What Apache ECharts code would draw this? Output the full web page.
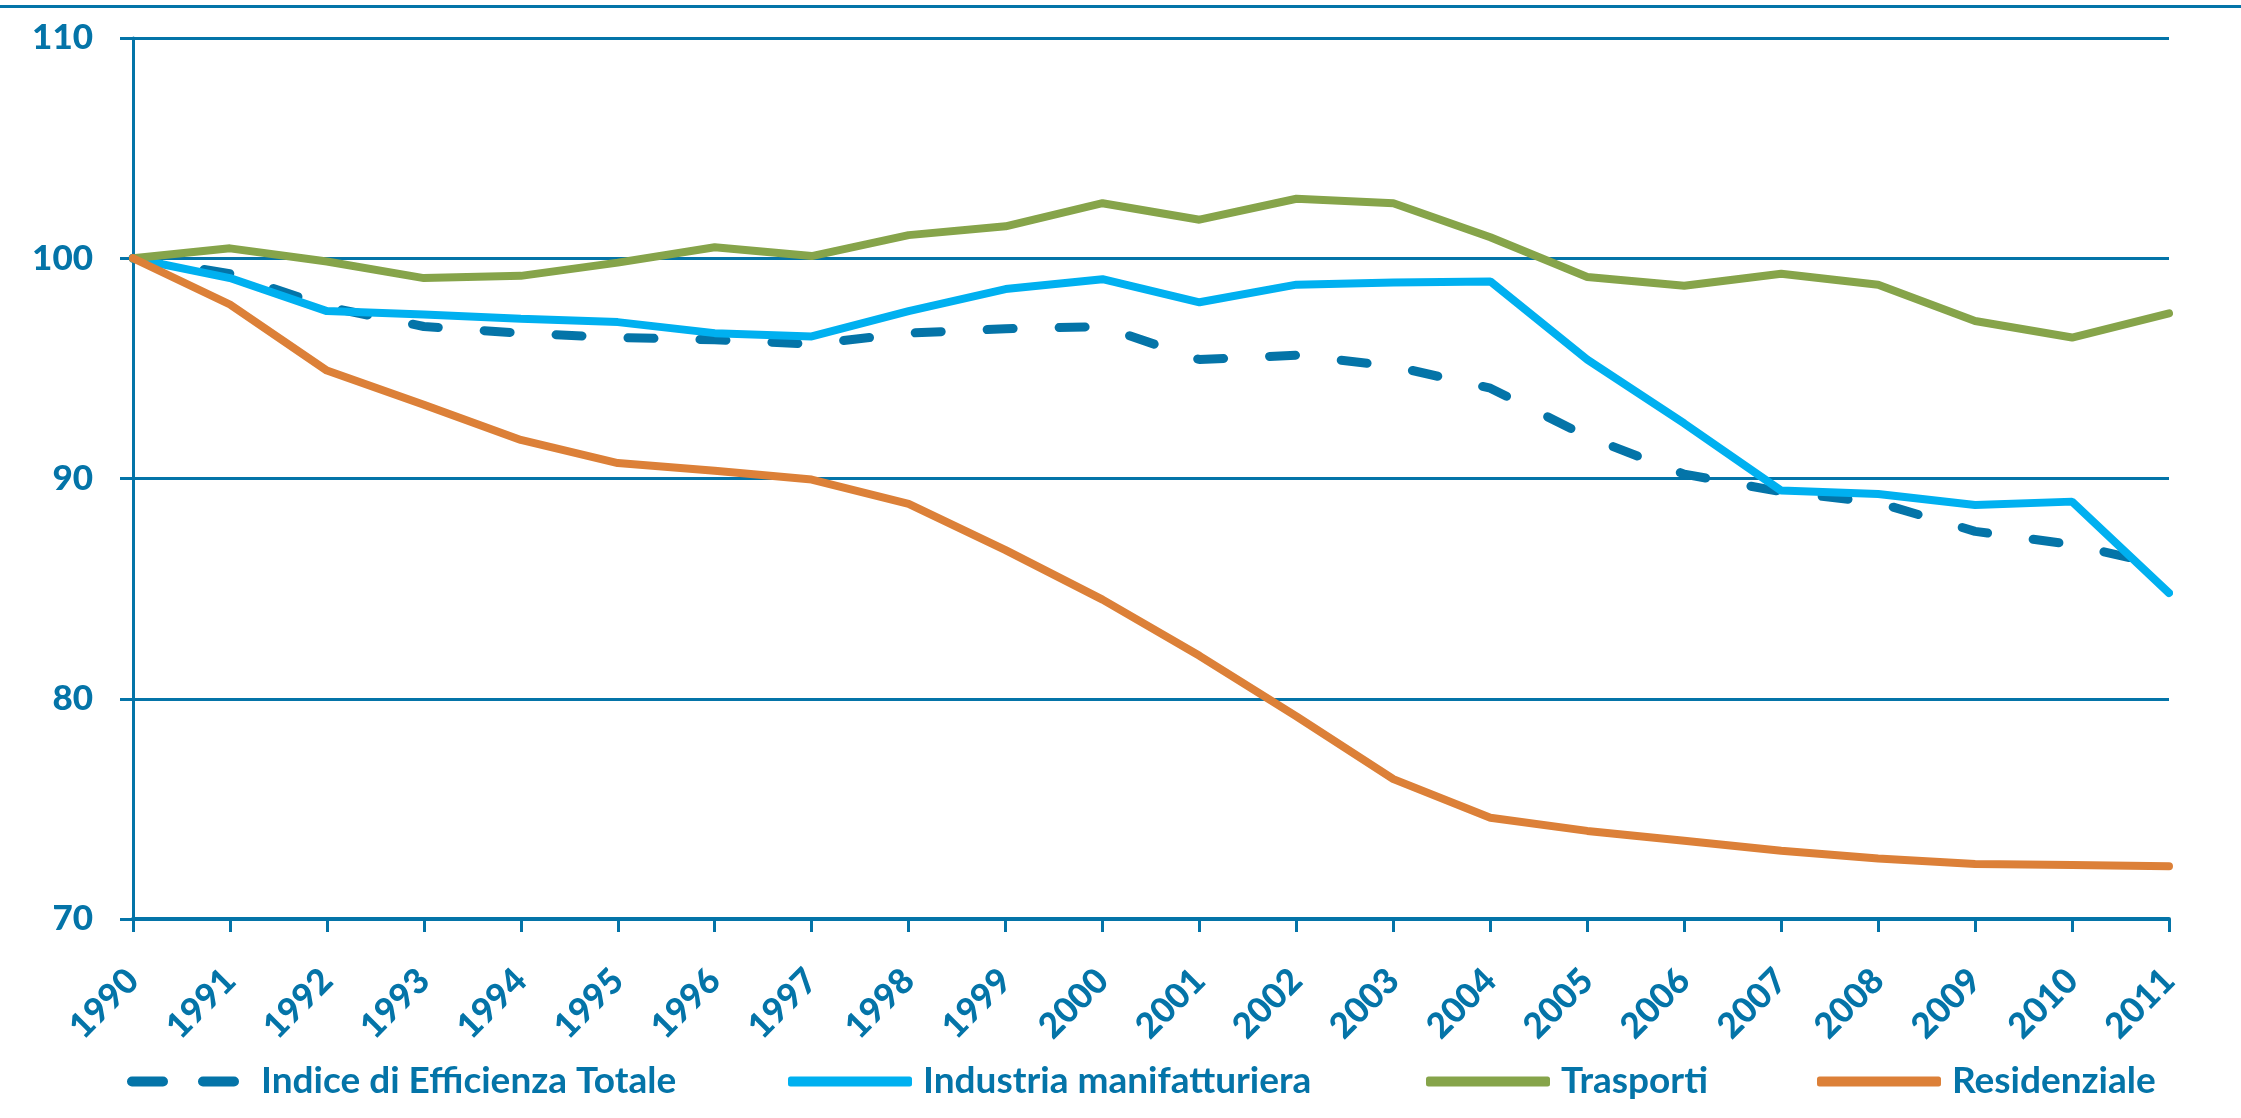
<!DOCTYPE html>
<html>
<head>
<meta charset="utf-8">
<script src="https://cdn.jsdelivr.net/npm/echarts@6/dist/echarts.min.js"></script>
<style>
  html, body { margin: 0; padding: 0; background: #fff; }
  #main { width: 2241px; height: 1118px; }
</style>
</head>
<body>
<div id="main"></div>
<script>
// dati
var anni = ['1990','1991','1992','1993','1994','1995','1996','1997','1998','1999','2000',
            '2001','2002','2003','2004','2005','2006','2007','2008','2009','2010','2011'];
var indiceTotale = [100, 99.3, 97.8, 96.9, 96.6, 96.4, 96.3, 96.1, 96.6, 96.8, 96.9,
                    95.4, 95.6, 95.1, 94.1, 91.9, 90.2, 89.4, 88.9, 87.6, 87.0, 86.0];
var industria = [100, 99.1, 97.6, 97.45, 97.25, 97.1, 96.6, 96.45, 97.6, 98.6, 99.05,
                 98.0, 98.8, 98.9, 98.95, 95.4, 92.5, 89.45, 89.3, 88.8, 88.95, 84.8];
var trasporti = [100, 100.45, 99.85, 99.1, 99.2, 99.8, 100.5, 100.1, 101.05, 101.45, 102.5,
                 101.75, 102.7, 102.5, 100.95, 99.15, 98.75, 99.3, 98.8, 97.15, 96.4, 97.5];
var residenziale = [100, 97.9, 94.9, 93.35, 91.75, 90.7, 90.35, 89.95, 88.85, 86.75, 84.5,
                    81.95, 79.2, 76.35, 74.6, 74.0, 73.55, 73.1, 72.75, 72.5, 72.45, 72.4];
var yTicks = [70, 80, 90, 100, 110];
var nomi = ['Indice di Efficienza Totale', 'Industria manifatturiera', 'Trasporti', 'Residenziale'];

var blu = '#0474A8';
var colori = [blu, '#00B0F0', '#86A44A', '#DC8038'];
var font = 'Lato, "Open Sans", sans-serif';

// posizione (x) di ogni voce di legenda
var legendaX = [122, 783, 1421, 1812];
var iconaTratteggio = 'path://M5,0h31a5,5 0 0 1 0,10h-31a5,5 0 0 1 0,-10z M76,0h31a5,5 0 0 1 0,10h-31a5,5 0 0 1 0,-10z';

var chart = echarts.init(document.getElementById('main'));

var legende = nomi.map(function (n, i) {
  return {
    top: 1058,
    left: legendaX[i],
    itemWidth: i === 0 ? 112 : 124,
    itemHeight: 10,
    icon: i === 0 ? iconaTratteggio : 'roundRect',
    selectedMode: false,
    textStyle: { color: blu, fontFamily: font, fontWeight: 'bold', fontSize: 37, padding: [0, 0, 0, i === 0 ? 17 : 6] },
    data: [n]
  };
});

var option = {
  backgroundColor: '#fff',
  animation: false,
  graphic: [{
    type: 'line',
    shape: { x1: 0, y1: 6.5, x2: 2241, y2: 6.5 },
    style: { stroke: blu, lineWidth: 3 }
  }],
  grid: { left: 133, right: 72, top: 38, bottom: 199 },
  legend: legende,
  xAxis: {
    type: 'category',
    data: anni,
    boundaryGap: false,
    axisLine: { lineStyle: { color: blu, width: 4 } },
    axisTick: { show: true, length: 13, lineStyle: { color: blu, width: 3 } },
    axisLabel: { rotate: 45, margin: 56, color: blu, fontFamily: font, fontWeight: 900, fontSize: 35 },
    splitLine: { show: false }
  },
  yAxis: {
    type: 'value',
    min: yTicks[0],
    max: yTicks[yTicks.length - 1],
    interval: 10,
    axisLine: { show: true, lineStyle: { color: blu, width: 3 } },
    axisTick: { show: true, length: 13, lineStyle: { color: blu, width: 3 } },
    axisLabel: { margin: 40, color: blu, fontFamily: font, fontWeight: 900, fontSize: 35 },
    splitLine: { show: true, lineStyle: { color: blu, width: 3 } }
  },
  series: [
    {
      name: nomi[0], type: 'line', data: indiceTotale,
      symbol: 'none', z: 2,
      lineStyle: { color: colori[0], width: 9, type: [26, 46], cap: 'round' },
      itemStyle: { color: colori[0] }
    },
    {
      name: nomi[1], type: 'line', data: industria,
      symbol: 'none', z: 3,
      lineStyle: { color: colori[1], width: 8, cap: 'round' },
      itemStyle: { color: colori[1] }
    },
    {
      name: nomi[2], type: 'line', data: trasporti,
      symbol: 'none', z: 4,
      lineStyle: { color: colori[2], width: 8, cap: 'round' },
      itemStyle: { color: colori[2] }
    },
    {
      name: nomi[3], type: 'line', data: residenziale,
      symbol: 'none', z: 5,
      lineStyle: { color: colori[3], width: 8, cap: 'round' },
      itemStyle: { color: colori[3] }
    }
  ]
};

chart.setOption(option);
</script>
</body>
</html>
